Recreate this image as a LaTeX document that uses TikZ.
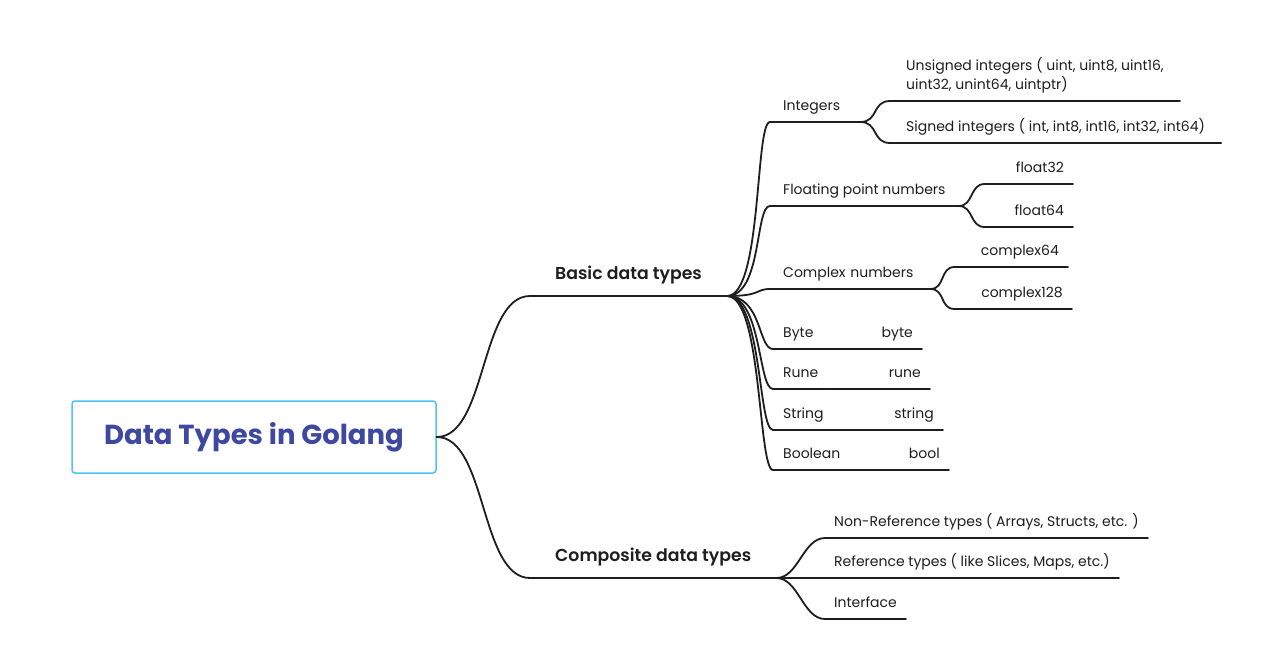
\documentclass[tikz,border=0pt]{standalone}
\usepackage{fontspec}
\setmainfont{Poppins}
\newfontfamily\semifont{Poppins SemiBold}
\usetikzlibrary{positioning}
\definecolor{titleblue}{RGB}{62,72,160}
\definecolor{boxblue}{RGB}{79,195,247}
\definecolor{ink}{RGB}{30,30,30}

\begin{document}
\begin{tikzpicture}[
			x=1pt, y=-1pt
			,every node/.append style={font=\fontsize{14}{19}\selectfont, text=ink}
			,root/.style={draw=boxblue, line width=1.5pt, rounded corners=3pt, minimum width=364pt, minimum height=72pt, font=\fontsize{27.5}{32}\bfseries, text=titleblue}
			,main/.style={anchor=south west, inner xsep=25pt, inner ysep=16pt, text depth=0pt, font=\fontsize{17.3}{20}\semifont}
			,sub/.style={anchor=south west, inner xsep=13pt, inner ysep=11pt, text depth=0pt, align=left}
			,leaf/.style={anchor=south east, inner xsep=9pt, inner ysep=11pt, text depth=0pt, align=right}
			,ln/.style={draw=ink, line width=1.8pt, line cap=round}
			,branch/.style 2 args={to path={.. controls +(#1,0) and +(-#2,0) .. (\tikztotarget)}}
		]
			\fill[white] (0,0) rectangle (1271,654);
			\useasboundingbox (0,0) rectangle (1271,654);

			\node [root] (golang) at (254,437) {Data Types in Golang};
			\node [main] (basic) at (530,296) {Basic data types};
			\node [main] (composite) at (530,578) {Composite data types};

			\node [sub, text width=64pt] (integers) at (770,122) {Integers};
			\node [sub] (floating) at (770,206) {Floating point numbers};
			\node [sub, text width=134pt] (complex) at (770,289) {Complex numbers};
			\node [sub, inner xsep=10pt] (byteT) at (773,349) {Byte};
			\node [sub, inner xsep=10pt] (runeT) at (773,389) {Rune};
			\node [sub, inner xsep=10pt] (stringT) at (773,430) {String};
			\node [sub, inner xsep=10pt] (boolT) at (773,470) {Boolean};

			\node [sub, inner xsep=16pt, inner ysep=8pt, text depth=] (unsigned) at (890,101) {Unsigned integers ( uint, uint8, uint16,\\uint32, unint64, uintptr)};
			\node [sub, inner xsep=16pt] (signed) at (890,143) {Signed integers ( int, int8, int16, int32, int64)};
			\node [leaf, text width=70pt] (float32) at (1073,184) {float32};
			\node [leaf, text width=70pt] (float64) at (1073,227) {float64};
			\node [leaf, text width=95pt] (complex64) at (1068,267) {complex64};
			\node [leaf, text width=99pt] (complex128) at (1072,309) {complex128};
			\node [leaf] (byte) at (922,349) {byte};
			\node [leaf] (rune) at (930,389) {rune};
			\node [leaf] (string) at (943,430) {string};
			\node [leaf] (bool) at (949,470) {bool};

			\node [sub, inner xsep=9pt] (nonref) at (825,538) {Non-Reference types ( Arrays, Structs, etc. )};
			\node [sub, inner xsep=9pt] (ref) at (825,578) {Reference types ( like Slices, Maps, etc.)};
			\node [sub, inner xsep=9pt] (iface) at (825,619) {Interface};

			\draw [ln] (golang.east) to[branch={50}{50}] (basic.south west) -- (basic.south east);
			\draw [ln] (golang.east) to[branch={50}{50}] (composite.south west) -- (composite.south east);

			\draw [ln] (basic.south east) to[branch={35}{15}] (integers.south west) -- (integers.south east);
			\draw [ln] (basic.south east) to[branch={35}{15}] (floating.south west) -- (floating.south east);
			\draw [ln] (basic.south east) to[branch={35}{15}] (complex.south west) -- (complex.south east);
			\draw [ln] (basic.south east) to[branch={35}{15}] (byteT.south west) -- (byteT.south east);
			\draw [ln] (basic.south east) to[branch={35}{15}] (runeT.south west) -- (runeT.south east);
			\draw [ln] (basic.south east) to[branch={35}{15}] (stringT.south west) -- (stringT.south east);
			\draw [ln] (basic.south east) to[branch={35}{15}] (boolT.south west) -- (boolT.south east);

			\draw [ln] (integers.south east) to[branch={18}{18}] (unsigned.south west) -- (unsigned.south east);
			\draw [ln] (integers.south east) to[branch={18}{18}] (signed.south west) -- (signed.south east);
			\draw [ln] (floating.south east) to[branch={15}{15}] (float32.south west) -- (float32.south east);
			\draw [ln] (floating.south east) to[branch={15}{15}] (float64.south west) -- (float64.south east);
			\draw [ln] (complex.south east) to[branch={15}{15}] (complex64.south west) -- (complex64.south east);
			\draw [ln] (complex.south east) to[branch={15}{15}] (complex128.south west) -- (complex128.south east);
			\draw [ln] (byteT.south east) -- (byte.south west) -- (byte.south east);
			\draw [ln] (runeT.south east) -- (rune.south west) -- (rune.south east);
			\draw [ln] (stringT.south east) -- (string.south west) -- (string.south east);
			\draw [ln] (boolT.south east) -- (bool.south west) -- (bool.south east);

			\draw [ln] (composite.south east) to[branch={22}{22}] (nonref.south west) -- (nonref.south east);
			\draw [ln] (composite.south east) to[branch={22}{22}] (ref.south west) -- (ref.south east);
			\draw [ln] (composite.south east) to[branch={22}{22}] (iface.south west) -- (iface.south east);
		\end{tikzpicture}
\end{document}
